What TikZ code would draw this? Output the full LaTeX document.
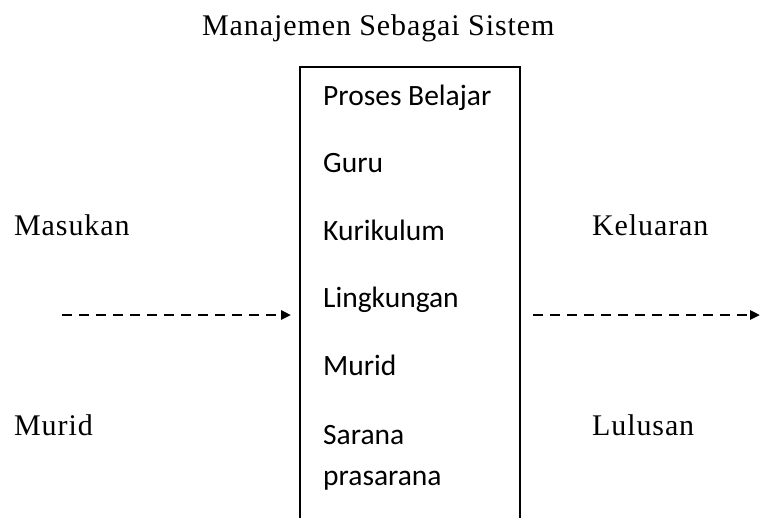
\documentclass[tikz,border=0pt]{standalone}
\usepackage{fontspec}
\setmainfont{Liberation Serif}
\newfontfamily\boxfont{Carlito}
\usetikzlibrary{arrows.meta}
\begin{document}
\begin{tikzpicture}[x=1pt,y=-1pt,
  serif/.style={font=\fontsize{30}{36}\selectfont\addfontfeature{LetterSpace=3}, inner sep=0pt, anchor=base west},
  item/.style={font=\boxfont\fontsize{29.5}{41}\selectfont, inner sep=0pt, anchor=base west},
  flow/.style={line width=2.5pt, dash pattern=on 10pt off 7pt, -{Triangle[length=10pt,width=9pt]}}]
  \useasboundingbox (0,0) rectangle (760,517);
  % title
  \node[serif] (title) at (202,35) {Manajemen Sebagai Sistem};
  % process box, open at the lower edge
  \draw[line width=1.5pt] (300,530) -- (300,67) -- (520,67) -- (520,530);
  \node[item] (p1) at (323,105) {Proses Belajar};
  \node[item] (p2) at (323,172) {Guru};
  \node[item] (p3) at (323,240) {Kurikulum};
  \node[item] (p4) at (323,307.5) {Lingkungan};
  \node[item] (p5) at (323,375) {Murid};
  \node[item] (p6) at (323,444) {Sarana};
  \node[item] (p7) at (323,485) {prasarana};
  % input side
  \node[serif] (in1) at (14,235) {Masukan};
  \node[serif] (in2) at (14,435) {Murid};
  \coordinate (ina) at (62,315);
  \coordinate (inb) at (291,315);
  \draw[flow] (ina) -- (inb);
  % output side
  \node[serif] (out1) at (592,235) {Keluaran};
  \node[serif] (out2) at (592,435) {Lulusan};
  \coordinate (outa) at (533,315);
  \coordinate (outb) at (760,315);
  \draw[flow] (outa) -- (outb);
\end{tikzpicture}
\end{document}
